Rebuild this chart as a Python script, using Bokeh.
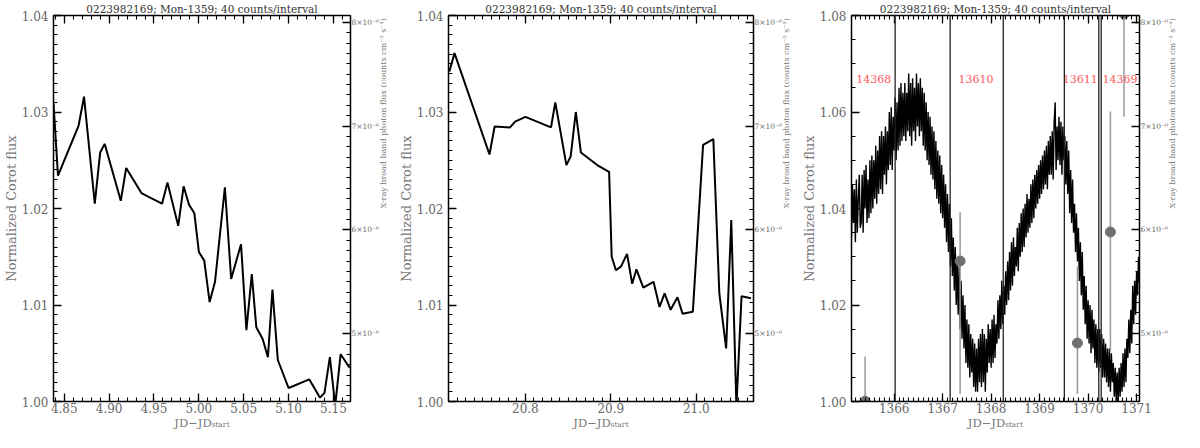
import math
import numpy as np
from bokeh.plotting import figure
from bokeh.models import (Range1d, LinearAxis, CustomJSTickFormatter, Span, Title,
                          SingleIntervalTicker, NumeralTickFormatter)
from bokeh.layouts import row
from bokeh.embed import file_html
from bokeh.resources import INLINE
from bokeh.core.properties import value

TITLE = "0223982169; Mon-1359; 40 counts/interval"
YLABEL = "Normalized Corot flux"
XLABEL = "JD\u2212JD\u209b\u209c\u2090\u1d63\u209c"
Y2LABEL = "X-ray broad band photon flux (counts cm\u207b\u00b2 s\u207b\u00b9)"

# ---- panel 1: CoRoT light curve segment ----
t1 = [4.838, 4.843, 4.866, 4.872, 4.884, 4.890, 4.895, 4.913, 4.919, 4.936, 4.944,
      4.959, 4.965, 4.977, 4.983, 4.989, 4.995, 5.000, 5.006, 5.012, 5.018, 5.029,
      5.036, 5.047, 5.053, 5.059, 5.064, 5.071, 5.077, 5.082, 5.088, 5.100, 5.123,
      5.135, 5.140, 5.146, 5.152, 5.158, 5.168]
f1 = [1.0309, 1.0234, 1.0286, 1.0316, 1.0205, 1.0258, 1.0267, 1.0208, 1.0242, 1.0216,
      1.0212, 1.0205, 1.0227, 1.0182, 1.0223, 1.0204, 1.0195, 1.0155, 1.0146, 1.0103,
      1.0124, 1.0222, 1.0127, 1.0163, 1.0074, 1.0132, 1.0077, 1.0065, 1.0046, 1.0116,
      1.0043, 1.0014, 1.0023, 1.0004, 1.0009, 1.0046, 0.9996, 1.0049, 1.0035]

# ---- panel 2 ----
t2 = [20.711, 20.717, 20.758, 20.764, 20.782, 20.788, 20.800, 20.830, 20.835, 20.848,
      20.853, 20.859, 20.865, 20.884, 20.898, 20.901, 20.906, 20.912, 20.919, 20.925,
      20.930, 20.938, 20.950, 20.957, 20.963, 20.970, 20.978, 20.984, 20.996, 21.008,
      21.020, 21.027, 21.035, 21.041, 21.047, 21.053, 21.064]
f2 = [1.0342, 1.0361, 1.0256, 1.0285, 1.0284, 1.0290, 1.0295, 1.0284, 1.0310, 1.0245,
      1.0254, 1.0300, 1.0258, 1.0245, 1.0238, 1.0150, 1.0136, 1.0140, 1.0153, 1.0122,
      1.0137, 1.0118, 1.0124, 1.0098, 1.0112, 1.0095, 1.0108, 1.0091, 1.0093, 1.0266,
      1.0272, 1.0112, 1.0055, 1.0188, 0.9995, 1.0109, 1.0107]

# ---- panel 3: full light curve, regular cadence ----
t3_start = 1365.12
t3_step = 0.02
f3_milli = [  # (flux - 1) in units of 1e-3
    34, 45, 37, 44, 33,   46, 35, 42, 47, 36,   37, 47, 35, 48, 40,
    49, 37, 46, 38, 50,   39, 51, 40, 50, 42,   53, 41, 52, 43, 55,
    44, 56, 43, 55, 47,   57, 45, 56, 48, 60,   49, 61, 48, 59, 52,
    63, 50, 62, 52, 65,   53, 66, 54, 64, 55,   66, 54, 64, 56, 68,
    55, 66, 53, 67, 56,   65, 54, 68, 57, 66,   55, 67, 56, 65, 53,
    64, 52, 62, 50, 60,   49, 59, 47, 57, 46,   56, 44, 54, 42, 52,
    41, 51, 39, 49, 38,   47, 36, 45, 33, 43,   31, 41, 28, 38, 26,
    34, 23, 32, 20, 29,   18, 28, 15, 25, 13,   22, 11, 20, 8, 17,
    7, 16, 5, 14, 6,      13, 3, 12, 2, 11,     2, 13, 4, 14, 3,
    15, 4, 14, 2, 13,     6, 16, 8, 15, 7,      17, 8, 18, 9, 16,
    12, 21, 13, 22, 15,   25, 16, 24, 18, 27,   20, 29, 21, 31, 23,
    33, 24, 34, 26, 32,   28, 36, 27, 37, 30,   39, 31, 40, 32, 41,
    34, 43, 35, 42, 36,   45, 37, 46, 38, 47,   40, 48, 41, 49, 42,
    50, 43, 51, 44, 52,   45, 53, 44, 54, 47,   55, 47, 56, 46, 58,
    62, 48, 57, 50, 59,   49, 58, 47, 57, 50,   55, 45, 54, 43, 52,
    39, 48, 37, 46, 35,   41, 31, 39, 29, 36,   25, 33, 22, 31, 19,
    26, 16, 24, 13, 21,   12, 20, 10, 19, 11,   17, 8, 16, 7, 15,
    6, 15, 7, 14, 5,      13, 5, 12, 4, 11,     3, 11, 2, 10, 4,
    8, 1, 7, 0, 6,        0, 7, 1, 8, 2,        10, 3, 11, 4, 13,
    9, 17, 10, 19, 12,    24, 16, 25, 18, 27,   22, 30, 25]

obs_bounds = [1366.02, 1367.155, 1368.25, 1369.51, 1370.22, 1370.27]
obs_ids = ["14368", "13610", "13611", "14369"]
obs_label_t = [1365.58, 1367.69, 1369.84, 1370.66]
obs_label_f = [1.0668, 1.0668, 1.0668, 1.0668]

xr_t = [1365.40, 1367.36, 1369.78, 1370.46, 1370.74]
xr_flux = [4.35e-6, 5.70e-6, 4.91e-6, 5.98e-6, 8.08e-6]
xr_lo = [3.90e-6, 4.42e-6, 4.42e-6, 4.83e-6, 7.09e-6]
xr_hi = [4.78e-6, 6.17e-6, 5.65e-6, 7.14e-6, 9.00e-6]

XR_RANGE = (4.347e-6, 8.065e-6)

FONT = "DejaVu Serif"
TICK_COL = "#666666"


def style_axis(ax, label_size="12px"):
    ax.major_tick_in = 8
    ax.major_tick_out = 0
    ax.minor_tick_in = 4
    ax.minor_tick_out = 0
    ax.axis_line_color = "black"
    ax.axis_line_width = 1.5
    ax.major_tick_line_color = "black"
    ax.minor_tick_line_color = "black"
    ax.major_tick_line_width = 1.3
    ax.minor_tick_line_width = 1.1
    ax.major_label_text_font = FONT
    ax.major_label_text_color = TICK_COL
    ax.major_label_text_font_size = label_size
    ax.major_label_standoff = 3
    ax.axis_label_text_font = FONT
    ax.axis_label_text_font_style = "normal"
    ax.axis_label_text_color = "#777777"


def make_panel(width, left_border, xr, yr, xint, xminor, yint, yminor, xfmt):
    p = figure(width=width, height=432, x_range=Range1d(*xr), y_range=Range1d(*yr),
               output_backend="svg", toolbar_location=None,
               x_axis_location=None, y_axis_location=None,
               min_border_left=left_border, min_border_right=8, min_border_top=0,
               min_border_bottom=8)
    p.title = Title(text=TITLE, align="center", text_font=FONT, text_font_size="10.5px",
                    text_font_style="normal", text_color="#333333", standoff=1)
    p.xgrid.visible = False
    p.ygrid.visible = False
    p.outline_line_color = "black"
    p.extra_y_ranges = {"xr": Range1d(*XR_RANGE)}

    bottom = LinearAxis(ticker=SingleIntervalTicker(interval=xint, num_minor_ticks=xminor),
                        formatter=NumeralTickFormatter(format=xfmt), axis_label=XLABEL)
    style_axis(bottom)
    bottom.major_label_standoff = 1
    bottom.axis_label_text_font_size = "11.5px"
    bottom.axis_label_standoff = 0
    p.add_layout(bottom, "below")

    top = LinearAxis(ticker=SingleIntervalTicker(interval=xint, num_minor_ticks=xminor),
                     formatter=CustomJSTickFormatter(code="return '';"))
    style_axis(top)
    top.major_label_standoff = 0
    top.major_label_text_font_size = "1px"
    p.add_layout(top, "above")

    left = LinearAxis(ticker=SingleIntervalTicker(interval=yint, num_minor_ticks=yminor),
                      formatter=NumeralTickFormatter(format="0.00"),
                      axis_label=YLABEL)
    style_axis(left)
    left.major_label_standoff = 5
    left.axis_label_text_font_size = "13px"
    left.axis_label_standoff = 0
    p.add_layout(left, "left")

    right = LinearAxis(y_range_name="xr",
                       ticker=SingleIntervalTicker(interval=1e-6, num_minor_ticks=10),
                       formatter=CustomJSTickFormatter(
                           code="return Math.round(tick*1e6) + '\u00d710\u207b\u2076';"),
                       axis_label=Y2LABEL)
    style_axis(right, label_size="7.5px")
    right.major_label_standoff = 1
    right.axis_label_text_font_size = "8px"
    right.axis_label_standoff = 1
    if "axis_label_orientation" in LinearAxis.properties():
        right.axis_label_orientation = math.pi / 2
    p.add_layout(right, "right")
    return p


p1 = make_panel(395, 44, (4.838, 5.169), (1.00, 1.04), 0.05, 5, 0.01, 10, "0.00")
p1.line(t1, f1, line_color="black", line_width=2)

p2 = make_panel(403, 52, (20.71, 21.067), (1.00, 1.04), 0.1, 10, 0.01, 10, "0.0")
p2.line(t2, f2, line_color="black", line_width=2)

p3 = make_panel(386, 53, (1365.12, 1371.06), (1.00, 1.08), 1, 10, 0.02, 4, "0")
t3 = t3_start + t3_step * np.arange(len(f3_milli))
f3 = 1.0 + np.array(f3_milli) / 1000.0
p3.line(t3, f3, line_color="black", line_width=1.4)
for b in obs_bounds:
    p3.add_layout(Span(location=b, dimension="height", line_color="#222222", line_width=1.3))
p3.text(obs_label_t, obs_label_f, text=obs_ids, text_font=value(FONT),
        text_font_size="11px", text_color="#ff5a5a", text_align="center",
        text_baseline="middle")
p3.segment(x0=xr_t, y0=xr_lo, x1=xr_t, y1=xr_hi, y_range_name="xr",
           line_color="#9a9a9a", line_width=1.5)
p3.scatter(xr_t, xr_flux, y_range_name="xr", size=10, fill_color="#707070",
           line_color="#707070")

layout = row(p1, p2, p3)
with open("out.html", "w", encoding="utf-8") as fh:
    fh.write(file_html(layout, INLINE))
